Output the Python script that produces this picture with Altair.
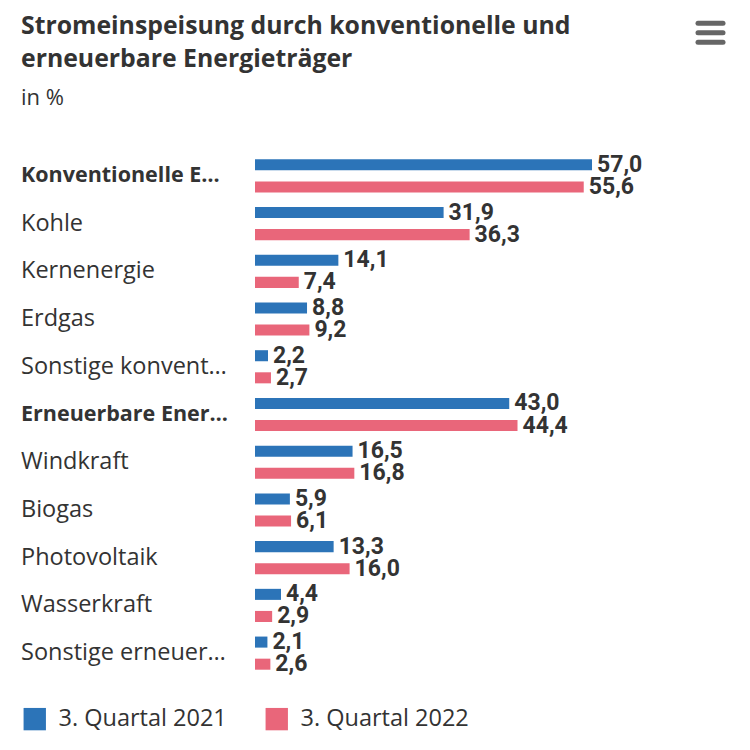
import altair as alt
import pandas as pd

categories = ["Konventionelle E…", "Kohle", "Kernenergie", "Erdgas", "Sonstige konvent…",
              "Erneuerbare Ener…", "Windkraft", "Biogas", "Photovoltaik", "Wasserkraft",
              "Sonstige erneuer…"]
bold_rows = ["Konventionelle E…", "Erneuerbare Ener…"]
series = ["3. Quartal 2021", "3. Quartal 2022"]
q2021 = [57.0, 31.9, 14.1, 8.8, 2.2, 43.0, 16.5, 5.9, 13.3, 4.4, 2.1]
q2022 = [55.6, 36.3, 7.4, 9.2, 2.7, 44.4, 16.8, 6.1, 16.0, 2.9, 2.6]
colors = ["#2c74b8", "#e9667a"]

rows = []
for c, a, b in zip(categories, q2021, q2022):
    rows.append({"cat": c, "series": series[0], "value": a})
    rows.append({"cat": c, "series": series[1], "value": b})
df = pd.DataFrame(rows)
labels_df = pd.DataFrame({"cat": categories, "bold": [c in bold_rows for c in categories]})

FONT = "Open Sans"
TFONT = "Roboto"
TXT = "#333333"

y_enc = alt.Y("cat:N", sort=categories, axis=None,
              scale=alt.Scale(paddingInner=0, paddingOuter=0))
yoff = alt.YOffset("series:N", sort=series,
                   scale=alt.Scale(paddingInner=0.5, paddingOuter=0.33))
x_enc = alt.X("value:Q", axis=None, scale=alt.Scale(domain=[0, 80]))

bars = alt.Chart(df).mark_bar().encode(
    x=x_enc, y=y_enc, yOffset=yoff,
    color=alt.Color("series:N", sort=series,
                    scale=alt.Scale(domain=series, range=colors),
                    legend=alt.Legend(title=None, orient="none", direction="horizontal",
                                      legendX=-232, legendY=555,
                                      symbolType="square", symbolSize=500,
                                      symbolStrokeWidth=0, symbolOpacity=1,
                                      labelFontSize=23.5, labelFont=FONT, labelColor=TXT,
                                      labelLimit=400,
                                      labelOffset=12, columnPadding=38)),
)

values = alt.Chart(df).transform_calculate(
    lbl="replace(format(datum.value, '.1f'), '.', ',')"
).mark_text(align="left", baseline="middle", dx=5, fontSize=23,
            fontWeight="bold", font=TFONT, color=TXT).encode(
    x=x_enc, y=y_enc, yOffset=yoff, text="lbl:N"
)

cat_normal = alt.Chart(labels_df).transform_filter("!datum.bold").mark_text(
    align="left", baseline="middle", fontSize=23.5, font=FONT, color=TXT
).encode(y=y_enc, x=alt.value(-234), text="cat:N")

cat_bold = alt.Chart(labels_df).transform_filter("datum.bold").mark_text(
    align="left", baseline="middle", fontSize=21.5, font=FONT, color=TXT, fontWeight="bold"
).encode(y=y_enc, x=alt.value(-234), text="cat:N")

menu = [
    alt.Chart(pd.DataFrame({"k": [0]})).mark_rule(
        strokeWidth=5, strokeCap="round", color="#666666"
    ).encode(x=alt.value(443), x2=alt.value(468), y=alt.value(yy))
    for yy in [-128.7, -119.3, -109.7]
]

chart = alt.layer(bars, values, cat_normal, cat_bold, *menu).properties(
    width=473, height=525,
    autosize=alt.AutoSizeParams(type="none"),
    padding={"left": 247, "top": 144, "right": 10, "bottom": 70},
    title=alt.TitleParams(
        text=["Stromeinspeisung durch konventionelle und", "erneuerbare Energieträger"],
        subtitle="in %", anchor="start", frame="group", dx=-234,
        fontSize=24.8, fontWeight="bold", font=FONT, color=TXT, lineHeight=33,
        subtitleFontSize=22, subtitleFont=FONT, subtitleColor=TXT, subtitlePadding=16,
        offset=-88,
    ),
).configure_view(stroke=None)

chart.save("out.html", embed_options={"renderer": "svg", "actions": False})
